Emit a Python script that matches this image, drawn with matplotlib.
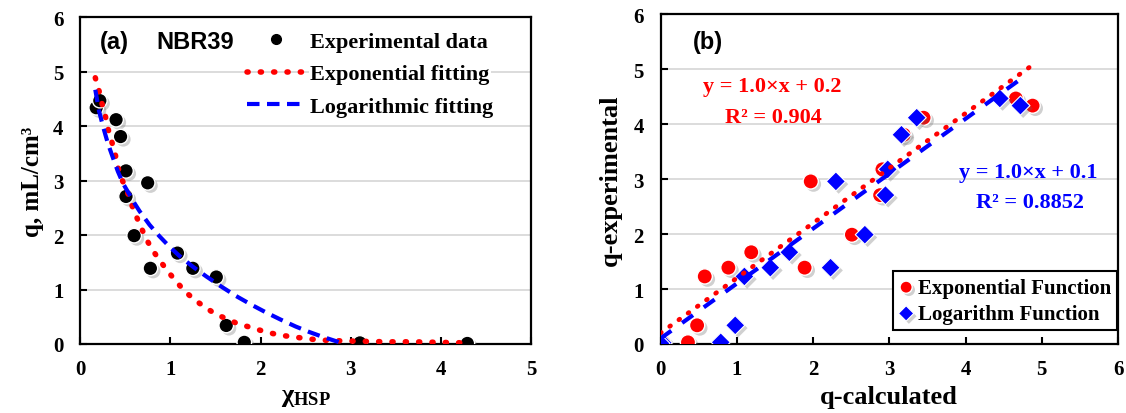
''' ========================================================
Aim: NBR39 uptake vs chi_HSP, exponential / logarithmic fits
     and calculated vs experimental q
---------------------------------------------------------'''

# importing libraries
import matplotlib
matplotlib.use("Agg")
import matplotlib.pyplot as plt
import matplotlib.patheffects as pe
from matplotlib.lines import Line2D
import numpy as np

# experimental data
chi_hsp = [0.18, 0.22, 0.40, 0.45, 0.51, 0.51, 0.60, 0.75, 0.78, 1.08, 1.25, 1.51, 1.62, 1.82, 3.10, 4.29]
q_exp   = [4.34, 4.47, 4.12, 3.81, 3.18, 2.71, 1.99, 2.96, 1.39, 1.67, 1.39, 1.23, 0.34, 0.03, 0.02, 0.01]

# fitted curves (a)
exp_fit_x = [0.17, 0.21, 0.24, 0.28, 0.31, 0.35, 0.39, 0.42, 0.46, 0.52, 0.57, 0.62, 0.68, 0.74,
             0.81, 0.89, 0.98, 1.07, 1.16, 1.27, 1.39, 1.51, 1.63, 1.75, 1.88, 2.00, 2.14, 2.27,
             2.41, 2.55, 2.69, 2.84, 3.10, 3.41, 3.69, 3.98, 4.29]
exp_fit_y = [4.89, 4.66, 4.44, 4.20, 3.96, 3.73, 3.49, 3.25, 3.04, 2.82, 2.57, 2.36, 2.13, 1.91,
             1.71, 1.52, 1.32, 1.14, 0.97, 0.81, 0.67, 0.54, 0.46, 0.37, 0.31, 0.25, 0.19, 0.15,
             0.12, 0.09, 0.07, 0.06, 0.05, 0.04, 0.04, 0.03, 0.02]
log_fit_x = [0.17, 0.21, 0.26, 0.31, 0.37, 0.42, 0.48, 0.55, 0.61, 0.66, 0.77, 0.88, 0.99, 1.10,
             1.25, 1.40, 1.56, 1.73, 1.90, 2.06, 2.22, 2.39, 2.54, 2.69, 2.82, 2.93]
log_fit_y = [4.67, 4.29, 3.97, 3.68, 3.40, 3.17, 2.94, 2.74, 2.57, 2.44, 2.19, 1.98, 1.79, 1.62,
             1.42, 1.24, 1.06, 0.88, 0.72, 0.58, 0.45, 0.32, 0.22, 0.13, 0.06, 0.0]

# calculated q (b)
q_calc_exp = [4.88, 4.66, 3.45, 3.19, 2.91, 2.88, 2.51, 1.97, 1.89, 1.19, 0.89, 0.58, 0.48, 0.36, 0.04, 0.00]
q_calc_log = [4.72, 4.45, 3.36, 3.16, 2.98, 2.95, 2.68, 2.30, 2.23, 1.69, 1.44, 1.10, 0.98, 0.79, 0.03, 0.00]

# trendlines (b)
exp_slope, exp_icpt, exp_r2 = 1.0, 0.2, 0.904
log_slope, log_icpt, log_r2 = 1.0, 0.1, 0.8852

# fonts
plt.rcParams['font.family'] = ['Liberation Serif', 'DejaVu Serif']
plt.rcParams['font.weight'] = 'bold'
plt.rcParams['axes.labelweight'] = 'bold'
plt.rcParams['mathtext.fontset'] = 'custom'
plt.rcParams['mathtext.rm'] = 'Liberation Serif:bold'
plt.rcParams['mathtext.it'] = 'Liberation Serif:bold'
plt.rcParams['mathtext.bf'] = 'Liberation Serif:bold'

shadow = [pe.SimplePatchShadow(offset=(2, -2), shadow_rgbFace='0.4', alpha=0.3), pe.Normal()]
dots_style = dict(color='red', lw=4.0, linestyle=(0, (0.2, 2.2)), dash_capstyle='round')
dash_style = dict(color='blue', lw=3.0, linestyle=(0, (3, 1.8)), dash_capstyle='butt')

def style_axes(ax, xmax):
    ax.set_xlim(0, xmax); ax.set_ylim(0, 6)
    ax.set_xticks(range(0, xmax + 1), labels=[str(v) for v in range(0, xmax + 1)],
                  fontweight='bold')
    ax.set_yticks(range(0, 7), labels=[str(v) for v in range(0, 7)], fontweight='bold')
    ax.grid(axis='y', color='#d9d9d9', lw=1.3)
    ax.set_axisbelow(True)
    for s in ax.spines.values():
        s.set_linewidth(1.6)
    ax.tick_params(direction='in', length=5, width=1.5, labelsize=15)
    ax.tick_params(axis='x', pad=11)
    ax.tick_params(axis='y', pad=12)

fig = plt.figure(figsize=(11.26, 4.14), dpi=100)

# ---- (a) ----
ax1 = fig.add_axes([0.071, 0.1667, 0.401, 0.789])
style_axes(ax1, 5)
ax1.scatter(chi_hsp, q_exp, s=110, c='black', edgecolors='white', linewidths=1.0,
            zorder=3, path_effects=shadow)
ax1.plot(exp_fit_x, exp_fit_y, zorder=4, **dots_style)
ax1.plot(log_fit_x, log_fit_y, zorder=4, **dash_style)
ax1.text(0.22, 5.55, '(a)', family='Liberation Sans', fontsize=17, weight='bold', va='center')
ax1.text(0.85, 5.55, 'NBR39', family='Liberation Sans', fontsize=17, weight='bold', va='center')
ax1.set_xlabel(r'$\mathrm{χ_{HSP}}$', fontsize=19, labelpad=4)
ax1.set_ylabel('q, mL/cm³', fontsize=18, labelpad=6)

handles = [Line2D([], [], marker='o', color='black', ls='none', ms=7),
           Line2D([], [], **dots_style),
           Line2D([], [], **dash_style)]
leg1 = ax1.legend(handles, ['Experimental data', 'Exponential fitting', 'Logarithmic fitting'],
                  loc='upper left', bbox_to_anchor=(0.35, 0.985), frameon=False,
                  prop={'size': 16, 'weight': 'bold'}, handlelength=2.6,
                  handletextpad=0.25, labelspacing=0.55, borderaxespad=0)
for t in leg1.get_texts():
    t.set_bbox(dict(facecolor='white', edgecolor='none', pad=1))

# ---- (b) ----
ax2 = fig.add_axes([0.5866, 0.1667, 0.4063, 0.796])
style_axes(ax2, 6)
ax2.scatter(q_calc_exp, q_exp, s=120, c='red', marker='o', edgecolors='white', linewidths=1.0,
            zorder=3, path_effects=shadow, label='Exponential Function')
ax2.scatter(q_calc_log, q_exp, s=95, c='blue', marker='D', edgecolors='white', linewidths=0.8,
            zorder=3, path_effects=shadow, label='Logarithm Function')

xe = np.array([0, max(q_calc_exp)])
xl = np.array([0, max(q_calc_log)])
ax2.plot(xe, exp_slope * xe + exp_icpt, color='red', lw=3.4, linestyle=(0, (0.2, 2.2)),
         dash_capstyle='round', zorder=4)
ax2.plot(xl, log_slope * xl + log_icpt, color='blue', lw=3.0, linestyle=(0, (3.2, 3.2)),
         zorder=4)

ax2.text(0.43, 5.5, '(b)', family='Liberation Sans', fontsize=17, weight='bold', va='center')
ax2.text(1.47, 4.69, f'y = {exp_slope:.1f}×x + {exp_icpt:.1f}', color='red', fontsize=16,
         ha='center', va='center')
ax2.text(1.48, 4.14, f'R² = {exp_r2}', color='red', fontsize=16, ha='center', va='center')
ax2.text(4.82, 3.14, f'y = {log_slope:.1f}×x + {log_icpt:.1f}', color='blue', fontsize=16,
         ha='center', va='center')
ax2.text(4.84, 2.59, f'R² = {log_r2}', color='blue', fontsize=16, ha='center', va='center')

ax2.set_xlabel('q-calculated', fontsize=19, labelpad=4)
ax2.set_ylabel('q-experimental', fontsize=19, labelpad=8)

leg2 = ax2.legend(loc='lower right', bbox_to_anchor=(0.998, 0.042), borderaxespad=0,
                  prop={'size': 15, 'weight': 'bold'}, fancybox=False, edgecolor='black',
                  framealpha=1, handlelength=0.7, handletextpad=0.2, labelspacing=0.3,
                  borderpad=0.3, markerscale=0.8)
leg2.get_frame().set_linewidth(1.5)

plt.savefig('out.png', dpi=100)
